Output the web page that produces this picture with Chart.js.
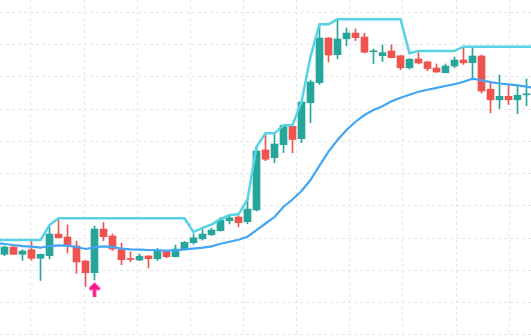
<!DOCTYPE html>
<html>
<head>
<meta charset="utf-8">
<script src="https://cdn.jsdelivr.net/npm/chart.js@4.4.1/dist/chart.umd.min.js"></script>
<style>
  html, body { margin: 0; padding: 0; background: #fff; }
  canvas { display: block; }
</style>
</head>
<body>
<canvas id="chart" width="531" height="336"></canvas>
<script>
// candles, one per session
const opens = [125.00,127.26,125.00,126.43,123.76,124.57,131.29,130.36,127.57,122.93,119.30,132.84,130.68,126.49,123.64,123.24,124.48,123.64,125.87,124.26,126.49,128.60,129.81,131.05,132.32,135.41,136.56,135.11,138.73,157.33,154.94,158.97,164.67,160.83,171.98,178.18,192.03,186.86,191.79,193.58,192.34,187.76,186.55,188.01,186.52,182.80,185.53,184.66,182.74,181.28,183.36,185.22,184.38,186.46,176.17,172.88,173.97,172.88,174.43];
const highs = [127.57,127.42,126.43,129.12,125.10,133.46,135.79,134.08,129.12,123.08,133.77,134.86,131.29,128.50,125.72,125.10,124.63,126.86,126.18,127.88,128.97,131.36,132.90,133.15,136.41,137.12,136.93,142.14,158.26,162.28,162.44,165.07,164.92,172.36,179.02,196.06,192.19,197.77,195.13,194.82,193.52,188.63,189.86,189.93,186.61,185.68,187.48,184.75,183.98,183.98,186.15,189.09,189.00,186.77,178.18,180.57,177.25,177.10,179.33];
const lows = [124.57,124.94,123.14,123.14,116.88,123.55,130.05,125.41,119.11,114.96,117.04,129.22,126.18,121.78,122.71,123.02,120.76,123.08,123.95,124.17,126.34,128.10,129.43,130.83,132.22,134.45,133.56,134.45,138.42,154.01,153.39,156.55,156.49,159.59,165.79,177.62,184.60,185.62,189.65,191.20,187.39,184.13,184.69,185.84,182.18,182.43,183.98,181.90,181.40,181.19,182.83,183.82,179.02,174.99,168.88,170.12,171.43,168.57,171.05];
const closes = [127.26,125.00,126.03,123.76,125.00,131.29,130.15,127.88,122.62,119.30,132.84,130.46,126.65,123.33,123.39,124.41,123.64,126.03,124.26,126.65,128.72,130.12,131.29,132.53,135.63,136.35,134.80,139.04,157.02,154.47,159.18,164.98,160.58,172.20,178.40,192.03,186.77,191.72,193.58,192.13,187.63,188.01,187.48,185.93,182.80,185.46,184.29,182.58,181.50,183.36,185.22,184.35,186.46,175.61,172.88,173.97,172.88,174.28,174.68];

// indicator lines start one session before the first candle and run one past the last
const upperBand = [129.43,129.43,129.43,129.43,129.43,129.43,134.08,
  136.16,136.16,136.16,136.16,136.16,136.16,136.16,136.16,136.16,136.16,136.16,136.16,136.16,136.16,136.16,
  131.91,133.22,134.24,135.88,137.18,137.40,141.99,158.35,162.50,162.50,164.98,164.98,172.20,186.24,196.28,196.28,
  197.83,197.83,197.83,197.83,197.83,197.83,197.83,197.83,187.29,
  188.01,188.01,188.01,188.01,188.01,
  189.34,189.34,189.34,189.34,189.34,189.34,189.34,189.34,189.34];
const movingAvg = [128.57,128.19,127.88,127.57,127.36,127.05,127.57,127.79,127.67,127.26,126.65,127.17,127.48,127.33,126.74,126.55,126.43,126.34,126.27,126.12,126.24,126.49,126.77,127.05,127.48,128.29,128.91,129.53,130.46,132.53,134.55,136.56,139.75,141.99,144.62,148.03,152.46,156.80,160.43,163.52,166.09,168.17,169.72,170.87,172.42,173.50,174.46,175.39,176.01,176.60,177.16,177.72,178.46,179.42,178.93,178.34,177.93,177.69,177.38,176.94,176.54];

// buy signals
const signalIdx = [10];
const signalPrice = [114.0];

const priceTicks = [100,110,120,130,140,150,160,170,180,190,200];

const UP = '#26a69a';
const DOWN = '#ef5350';
const GRID = '#e1e7ec';

const barIdx = opens.map((_, i) => i);
const lineIdx = upperBand.map((_, i) => i - 1);
const candleColors = closes.map((c, i) => c >= opens[i] ? UP : DOWN);

// vertical grid runs on its own (weekly) rhythm
const xGrid = [];
for (let v = 2.94; v < 58.5; v += 5.905) xGrid.push(v);

function makeArrow(color) {
  const c = document.createElement('canvas');
  c.width = 12; c.height = 15;
  const g = c.getContext('2d');
  g.fillStyle = color;
  g.beginPath();
  g.moveTo(6, 0);
  g.lineTo(12, 6);
  g.lineTo(9.6, 8.4);
  g.lineTo(7.7, 6.5);
  g.lineTo(7.7, 15);
  g.lineTo(4.3, 15);
  g.lineTo(4.3, 6.5);
  g.lineTo(2.4, 8.4);
  g.lineTo(0, 6);
  g.closePath();
  g.fill();
  return c;
}

const hiddenAxis = {
  type: 'linear',
  offset: false,
  ticks: { display: false },
  border: { display: false, dash: [3, 3] },
  grid: { color: GRID, lineWidth: 1, drawTicks: false, offset: false }
};

new Chart(document.getElementById('chart'), {
  type: 'bar',
  data: {
    datasets: [
      {
        type: 'line',
        data: lineIdx.map((x, i) => ({ x, y: movingAvg[i] })),
        borderColor: '#42a5f5',
        borderWidth: 2.2,
        pointRadius: 0,
        tension: 0,
        order: 1
      },
      {
        type: 'line',
        data: lineIdx.map((x, i) => ({ x, y: upperBand[i] })),
        borderColor: '#56d3e4',
        borderWidth: 2.5,
        pointRadius: 0,
        tension: 0,
        order: 0
      },
      {
        type: 'line',
        showLine: false,
        data: signalIdx.map((x, i) => ({ x, y: signalPrice[i] })),
        pointStyle: makeArrow('#f7158d'),
        pointRadius: 6,
        order: 0
      },
      {
        data: barIdx.map(i => ({ x: i, y: [opens[i], closes[i]] })),
        backgroundColor: candleColors,
        barThickness: 7,
        minBarLength: 1,
        grouped: false,
        borderWidth: 0,
        order: 2
      },
      {
        data: barIdx.map(i => ({ x: i, y: [lows[i], highs[i]] })),
        backgroundColor: candleColors,
        barThickness: 1,
        grouped: false,
        borderWidth: 0,
        order: 3
      }
    ]
  },
  options: {
    responsive: false,
    animation: false,
    events: [],
    layout: { padding: 0, autoPadding: false },
    plugins: { legend: { display: false }, tooltip: { enabled: false } },
    scales: {
      x: Object.assign({}, hiddenAxis, {
        min: -0.5, max: 58.5,
        afterBuildTicks: ax => { ax.ticks = xGrid.map(v => ({ value: v })); }
      }),
      y: Object.assign({}, hiddenAxis, {
        min: 99.69, max: 203.81,
        afterBuildTicks: ax => { ax.ticks = priceTicks.map(v => ({ value: v })); }
      })
    }
  }
});
</script>
</body>
</html>
